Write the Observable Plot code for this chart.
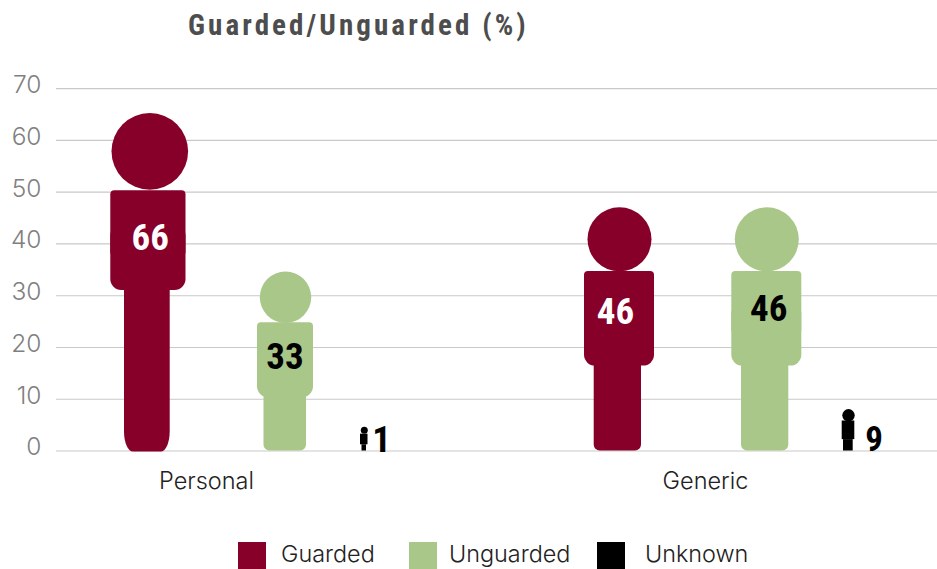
<!DOCTYPE html>
<html>
<head>
<meta charset="utf-8">
<script src="https://cdn.jsdelivr.net/npm/d3@7"></script>
<script src="https://cdn.jsdelivr.net/npm/@observablehq/plot@0.6"></script>
<style>
  html, body { margin: 0; padding: 0; background: #fff; width: 937px; height: 569px; overflow: hidden; }
  #wrap { position: relative; width: 937px; height: 569px; }
  #title { position: absolute; left: 188px; top: 8px; font: bold 29px "Roboto Condensed", Roboto, sans-serif; letter-spacing: 3.1px; color: #4d4d4d; white-space: nowrap; line-height: 34px; }
  #chart { position: absolute; left: 0; top: 48px; }
  .sw { position: absolute; top: 542px; width: 28px; height: 28px; }
  .lg { position: absolute; top: 540px; font: 300 23.4px Inter, sans-serif; color: #222; line-height: 28px; white-space: nowrap; }
</style>
</head>
<body>
<div id="wrap">
  <div id="title">Guarded/Unguarded (%)</div>
  <div id="chart"></div>
</div>
<script>
const groups = ["Personal", "Generic"];
const groupCentre = [206, 705];
const series = ["Guarded", "Unguarded", "Unknown"];
const colors = ["#870029", "#a9c788", "#000000"];
const yTicks = [0, 10, 20, 30, 40, 50, 60, 70];

const figGroup  = ["Personal", "Personal", "Personal", "Generic", "Generic", "Generic"];
const figSeries = ["Guarded", "Unguarded", "Unknown", "Guarded", "Unguarded", "Unknown"];
const figValue  = [66, 33, 1, 46, 46, 9];

// Silhouette of each figure, in chart units
const headX      = [149.3, 285, 363.8, 619, 766.3, 848];
const headY      = [57.9, 29.7, 4.0, 40.9, 40.9, 6.9];
const headR      = [38.3, 25.7, 3.5, 32, 32, 6.2];
const bodyLeft   = [110.3, 257, 360, 584, 731.3, 841.7];
const bodyRight  = [185.5, 313, 367.5, 654, 801.3, 854.3];
const bodyTop    = [50.3, 24.8, 3.25, 34.7, 34.7, 5.8];
const bodyBottom = [31, 10.3, 1.2, 16.4, 16.4, 2.2];
const legLeft    = [124, 263.5, 361.5, 593.7, 741, 843];
const legRight   = [169.7, 306, 366, 641, 788.3, 852.7];
const legBottom  = [-0.2, 0, 0, 0, 0, 0];
const labelX     = [149.7, 284.5, 381, 615, 768.3, 873.5];
const labelY     = [41.1, 18.1, 2.1, 26.9, 27.4, 2.1];
const labelSize  = [37, 37, 37, 37, 37, 35];
const labelFill  = ["#ffffff", "#000000", "#000000", "#ffffff", "#000000", "#000000"];

const figs = figValue.map((value, i) => ({
  group: figGroup[i], series: figSeries[i], value,
  hx: headX[i], hy: headY[i], hr: headR[i],
  bl: bodyLeft[i], br: bodyRight[i], bt: bodyTop[i], bb: bodyBottom[i],
  bm: (bodyTop[i] + bodyBottom[i]) / 2,
  ll: legLeft[i], lr: legRight[i], lb: legBottom[i],
  tx: labelX[i], ty: labelY[i], ts: labelSize[i], tf: labelFill[i]
}));
const big = figs.filter(d => d.value > 1 && d.value !== 9);
const small = figs.filter(d => d.value === 1 || d.value === 9);
const tall = big.filter(d => d.value === 66);
const rest = big.filter(d => d.value !== 66);

const chart = Plot.plot({
  width: 937, height: 450,
  marginLeft: 56, marginRight: 0, marginTop: 40.2, marginBottom: 47.5,
  style: { fontFamily: "Inter, sans-serif", background: "transparent", overflow: "visible" },
  x: { domain: [56, 937], axis: null },
  y: { domain: [0, 70], axis: null },
  r: { type: "identity" },
  color: { domain: series, range: colors },
  marks: [
    Plot.ruleY(yTicks, { stroke: "#c9c9c9", strokeWidth: 1.2 }),
    Plot.text(yTicks, { x: () => 41, y: d => d, text: d => String(d), textAnchor: "end", dy: -3.5, fontSize: 24.5, fill: "#808080", fontWeight: 300 }),
    Plot.text(groups, { x: (d, i) => groupCentre[i], y: () => 0, text: d => d, dy: 30.5, fontSize: 23.5, fill: "#222", fontWeight: 300 }),
    // legs
    Plot.rect(tall, { x1: "ll", x2: "lr", y1: "lb", y2: "bm", fill: "series", rx: 9, ry: 20 }),
    Plot.rect(rest, { x1: "ll", x2: "lr", y1: "lb", y2: "bm", fill: "series", rx: 6, ry: 6 }),
    Plot.rect(small, { x1: "ll", x2: "lr", y1: "lb", y2: "bb", fill: "series" }),
    // torsos: round lower corners, tight upper corners
    Plot.rect(big, { x1: "bl", x2: "br", y1: "bb", y2: d => d.bm + 3, fill: "series", rx: 11, ry: 11 }),
    Plot.rect(big, { x1: "bl", x2: "br", y1: d => d.bm - 3, y2: "bt", fill: "series", rx: 4, ry: 4 }),
    Plot.rect(small, { x1: "bl", x2: "br", y1: "bb", y2: "bt", fill: "series" }),
    // heads
    Plot.dot(figs, { x: "hx", y: "hy", r: "hr", fill: "series" }),
    // values
    Plot.text(figs, {
      x: "tx", y: "ty", text: d => String(d.value), fill: "tf", fontSize: "ts",
      fontWeight: 700, fontFamily: "'Roboto Condensed', Roboto, sans-serif",
      textAnchor: "middle", lineAnchor: "middle"
    })
  ]
});
document.getElementById("chart").appendChild(chart);

// Legend
const wrap = document.getElementById("wrap");
const swatchLeft = [238, 409, 597];
const labelLeft = [281, 449, 645];
series.forEach((name, i) => {
  const s = document.createElement("div");
  s.className = "sw"; s.style.left = swatchLeft[i] + "px"; s.style.background = colors[i];
  const t = document.createElement("div");
  t.className = "lg"; t.style.left = labelLeft[i] + "px"; t.textContent = name;
  wrap.append(s, t);
});
</script>
</body>
</html>
